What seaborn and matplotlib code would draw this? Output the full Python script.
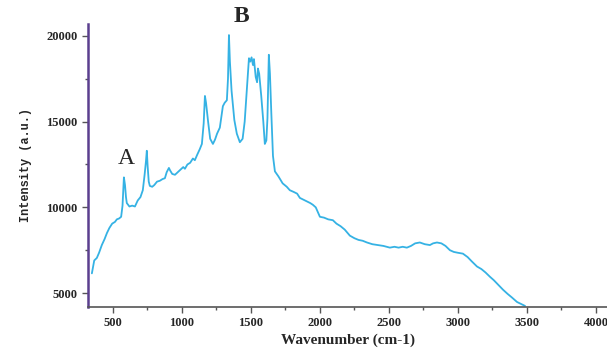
import numpy as np
import pandas as pd
import matplotlib
matplotlib.use("Agg")
import matplotlib.pyplot as plt
import seaborn as sns
from matplotlib.ticker import MultipleLocator

wavenumber = [348, 365, 384, 400, 420, 440, 457, 475, 495, 515, 529, 545, 560, 570, 580, 588, 595, 601,
              620, 640, 660, 680, 700, 717, 730, 740, 746, 752, 760, 768, 785, 800, 820, 840, 860, 877,
              890, 906, 915, 930, 950, 970, 990, 1010, 1022, 1040, 1060, 1080, 1094, 1110, 1130, 1145,
              1158, 1167, 1175, 1190, 1205, 1225, 1240, 1255, 1275, 1290, 1297, 1310, 1326, 1334, 1341,
              1348, 1360, 1380, 1398, 1420, 1440, 1455, 1470, 1486, 1495, 1505, 1515, 1522, 1535, 1545,
              1551, 1560, 1575, 1590, 1601, 1612, 1620, 1630, 1638, 1648, 1660, 1674, 1700, 1730, 1760,
              1782, 1810, 1835, 1855, 1880, 1905, 1930, 1949, 1970, 2000, 2030, 2060, 2094, 2120, 2150,
              2180, 2217, 2250, 2280, 2310, 2341, 2380, 2420, 2460, 2507, 2540, 2570, 2600, 2630, 2660,
              2690, 2724, 2760, 2797, 2820, 2848, 2880, 2910, 2942, 2970, 3000, 3036, 3070, 3100, 3138,
              3170, 3200, 3232, 3260, 3290, 3326, 3360, 3390, 3428, 3460, 3486]
intensity = [6150, 6900, 7050, 7350, 7800, 8150, 8500, 8800, 9050, 9150, 9300, 9350, 9450, 10100, 11750,
             11300, 10600, 10250, 10050, 10100, 10050, 10400, 10600, 11000, 11900, 12700, 13300, 12400,
             11500, 11250, 11200, 11300, 11500, 11550, 11650, 11700, 12050, 12300, 12150, 11950, 11900,
             12050, 12200, 12350, 12250, 12500, 12600, 12850, 12750, 13050, 13400, 13700, 14900, 16500,
             16100, 15000, 14000, 13700, 13950, 14300, 14650, 15500, 15900, 16100, 16250, 17500, 20050,
             18500, 16800, 15100, 14300, 13800, 14000, 15000, 16800, 18700, 18500, 18750, 18300, 18650,
             17600, 17300, 18100, 17800, 16500, 15000, 13700, 13900, 15200, 18900, 17800, 15500, 13000,
             12100, 11800, 11400, 11200, 11000, 10900, 10800, 10550, 10450, 10350, 10250, 10150, 10000,
             9450, 9400, 9300, 9250, 9050, 8900, 8700, 8350, 8200, 8100, 8050, 7950, 7850, 7800, 7750,
             7650, 7700, 7650, 7700, 7650, 7750, 7900, 7950, 7850, 7800, 7900, 7950, 7900, 7750, 7500,
             7400, 7350, 7300, 7100, 6850, 6550, 6400, 6200, 5950, 5750, 5500, 5200, 4950, 4750, 4480,
             4350, 4250]

df = pd.DataFrame({"Wavenumber": wavenumber, "Intensity": intensity})

sns.set_style("ticks")
fig = plt.figure(figsize=(6.07, 3.52), dpi=100)
ax = fig.add_axes([0.145, 0.128, 0.855, 0.804])

sns.lineplot(data=df, x="Wavenumber", y="Intensity", ax=ax, color="#35b2e4", linewidth=1.3)

ax.set_xlim(320, 4080)
ax.set_ylim(4190, 20700)
ax.xaxis.set_major_locator(MultipleLocator(500))
ax.xaxis.set_minor_locator(MultipleLocator(250))
ax.yaxis.set_major_locator(MultipleLocator(5000))
ax.yaxis.set_minor_locator(MultipleLocator(2500))

ax.set_xlabel("Wavenumber (cm-1)", family="Liberation Serif", weight="bold", size=11, labelpad=3)
ax.set_ylabel("Intensity (a.u.)", family="Liberation Mono", weight="bold", size=8.6, labelpad=10)
for lbl in ax.get_xticklabels() + ax.get_yticklabels():
    lbl.set_family("Liberation Serif")
    lbl.set_weight("bold")
    lbl.set_size(9)

sns.despine(ax=ax)
ax.spines["left"].set_color("#5b3f8f")
ax.spines["left"].set_linewidth(1.8)
ax.spines["bottom"].set_color("#555555")
ax.spines["bottom"].set_linewidth(1.2)
ax.tick_params(which="major", length=4, width=1, color="#555555")
ax.tick_params(which="minor", length=2.5, width=1, color="#555555")

# Rótulos dos picos
ax.text(600, 12250, "A", fontsize=17, family="Liberation Serif", ha="center", va="bottom")
ax.text(1430, 20550, "B", fontsize=17, family="Liberation Serif", weight="bold",
        ha="center", va="bottom", clip_on=False)

fig.savefig("out.png", dpi=100)
